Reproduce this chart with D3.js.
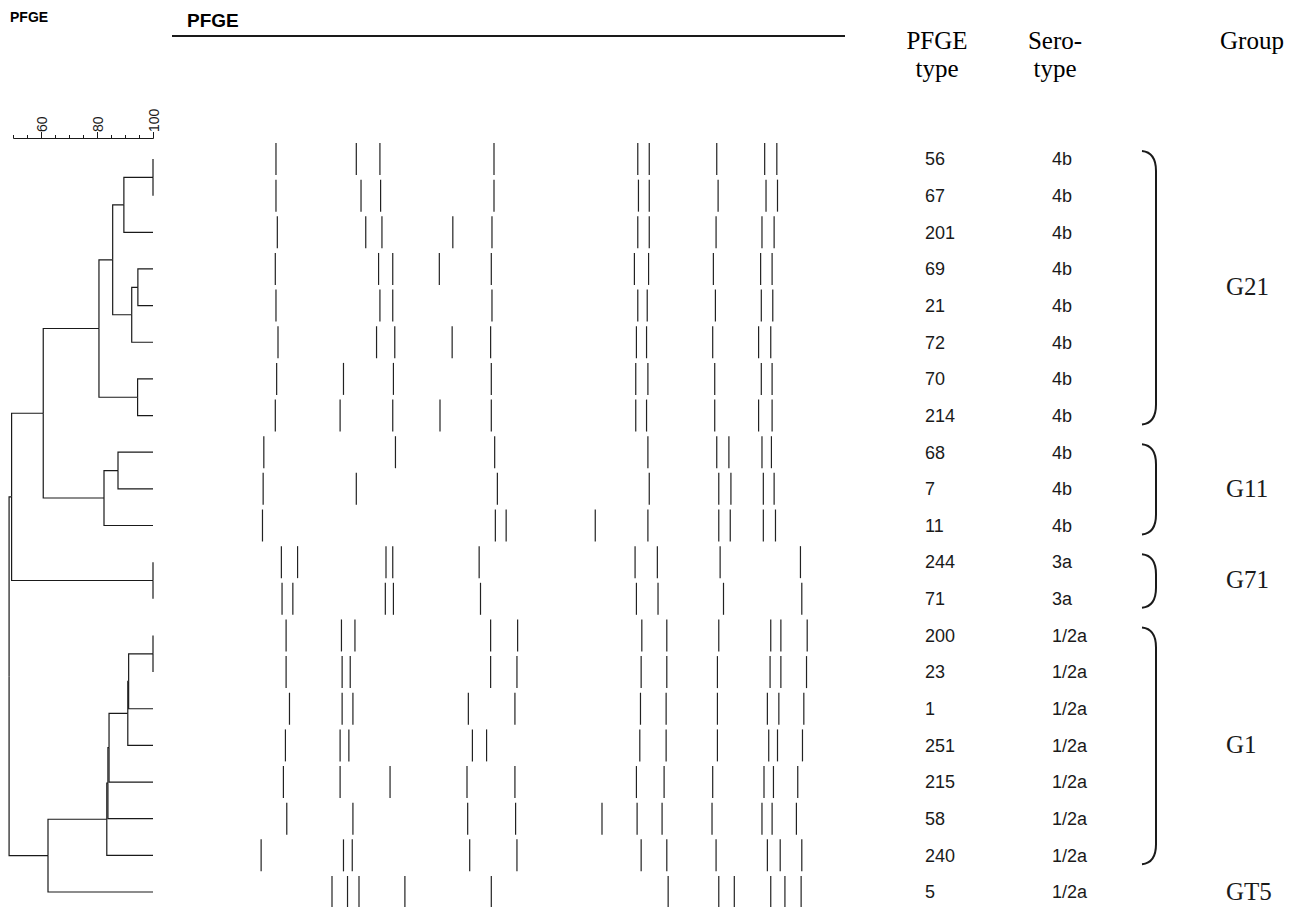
<!DOCTYPE html>
<html>
<head>
<meta charset="utf-8">
<script src="https://cdn.jsdelivr.net/npm/d3@7"></script>
<style>
  body { margin: 0; background: #fff; }
  svg { display: block; }
</style>
</head>
<body>
<div id="chart"></div>
<script>
// DATA
const pfgeTypes = ["56", "67", "201", "69", "21", "72", "70", "214", "68", "7", "11",
  "244", "71", "200", "23", "1", "251", "215", "58", "240", "5"];
const serotypes = ["4b", "4b", "4b", "4b", "4b", "4b", "4b", "4b", "4b", "4b", "4b",
  "3a", "3a", "1/2a", "1/2a", "1/2a", "1/2a", "1/2a", "1/2a", "1/2a", "1/2a"];

// clustering: indices < 21 are patterns, 21 + k is the k-th merge
const merges = [[0, 1], [21, 2], [3, 4], [23, 5], [22, 24], [6, 7], [25, 26], [8, 9], [28, 10],
  [27, 29], [11, 12], [30, 31], [13, 14], [33, 15], [34, 16], [35, 17], [36, 18], [37, 19],
  [38, 20], [32, 39]];
const mergeSimilarity = [100, 89.6, 94.6, 92.4, 85.6, 94.5, 80.7, 87.5, 82.5,
  60.8, 100, 49.5, 100, 91.3, 91.0, 84.3, 83.9, 83.5, 62.5, 48.6];

// band positions along the lane (% of lane length), one list per pattern
const bands = [
  [15.7, 27.6, 31.1, 48.0, 69.3, 71.0, 81.0, 88.1, 89.9],
  [15.7, 28.3, 31.2, 48.0, 69.4, 71.0, 81.2, 88.3, 90.0],
  [15.9, 29.0, 31.4, 41.9, 47.7, 69.3, 71.0, 80.9, 87.7, 89.5],
  [15.6, 30.9, 33.0, 39.9, 47.6, 68.8, 70.9, 80.5, 87.5, 89.2],
  [15.7, 31.1, 33.0, 47.7, 69.3, 70.7, 80.8, 87.6, 89.3],
  [16.0, 30.6, 33.3, 41.8, 47.5, 69.1, 70.6, 80.4, 87.2, 89.0],
  [15.8, 25.7, 33.1, 47.6, 69.0, 70.8, 80.7, 87.6, 89.2],
  [15.6, 25.2, 33.0, 40.0, 47.6, 69.0, 70.6, 80.7, 87.2, 89.2],
  [13.9, 33.4, 48.1, 70.8, 81.0, 82.8, 87.7, 89.1],
  [13.8, 27.6, 48.5, 71.0, 81.3, 83.1, 87.9, 89.5],
  [13.7, 48.2, 49.8, 63.0, 70.8, 81.3, 83.0, 87.9, 89.7],
  [16.5, 18.9, 32.0, 33.0, 45.8, 68.9, 72.2, 81.5, 93.4],
  [16.6, 18.2, 31.9, 33.1, 46.0, 69.1, 72.3, 82.0, 93.6],
  [17.2, 25.4, 27.4, 47.5, 51.5, 69.9, 73.6, 81.3, 89.0, 90.5, 94.4],
  [17.2, 25.5, 26.7, 47.5, 51.4, 69.8, 73.6, 81.1, 88.9, 90.5, 94.3],
  [17.7, 25.5, 27.1, 44.2, 51.1, 69.7, 73.5, 81.1, 88.5, 90.2, 93.9],
  [17.1, 25.2, 26.5, 44.8, 46.9, 69.6, 73.5, 81.1, 88.7, 90.0, 93.7],
  [16.8, 25.2, 32.6, 44.0, 51.1, 69.1, 73.2, 80.4, 88.0, 89.4, 93.0],
  [17.3, 27.1, 44.1, 51.2, 64.0, 69.2, 72.9, 80.3, 87.7, 89.2, 92.8],
  [13.5, 25.7, 27.0, 44.4, 51.4, 69.8, 73.6, 80.9, 88.5, 90.4, 93.6],
  [24.0, 26.3, 28.0, 34.8, 47.6, 73.8, 81.3, 83.6, 89.0, 91.1, 93.5]
];

const groupNames = ["G21", "G11", "G71", "G1", "GT5"];
const groupFirst = [0, 8, 11, 13, 20];
const groupLast = [7, 10, 12, 19, 20];

const minorTicks = [50, 55, 60, 65, 70, 75, 80, 85, 90, 95, 100];
const majorTicks = [60, 80, 100];

// LAYOUT
const width = 1300;
const height = 907;
const sans = "'Liberation Sans', Arial, sans-serif";
const serif = "'Liberation Serif', 'Times New Roman', serif";
const ink = "#1a1a1a";

const svg = d3.select("#chart")
  .append("svg")
  .attr("width", width)
  .attr("height", height)
  .attr("viewBox", [0, 0, width, height]);

const simX = d3.scaleLinear().domain([50, 100]).range([13, 153]);
const rowY = d3.scaleLinear().domain([0, pfgeTypes.length - 1]).range([159, 892]);
const laneX = d3.scaleLinear().domain([0, 100]).range([170, 845]);

// titles
svg.append("text")
  .attr("x", 10).attr("y", 22)
  .attr("font-family", sans).attr("font-weight", "bold").attr("font-size", 14)
  .text("PFGE");

svg.append("text")
  .attr("x", 187).attr("y", 27)
  .attr("font-family", sans).attr("font-weight", "bold").attr("font-size", 19)
  .text("PFGE");

svg.append("line")
  .attr("x1", laneX(0) + 2).attr("x2", laneX(100))
  .attr("y1", 36).attr("y2", 36)
  .attr("stroke", ink).attr("stroke-width", 2);

// similarity axis
const axisG = svg.append("g").attr("transform", "translate(0,138)");
axisG.append("g")
  .call(d3.axisTop(simX).tickValues(minorTicks).tickSize(3).tickFormat(""))
  .call(g => g.selectAll("line,path").attr("stroke", ink));
axisG.append("g")
  .call(d3.axisTop(simX).tickValues(majorTicks).tickSize(6).tickSizeOuter(0))
  .call(g => g.select(".domain").remove())
  .call(g => g.selectAll("line").attr("stroke", ink))
  .call(g => g.selectAll("text")
    .attr("font-family", sans)
    .attr("font-size", 14)
    .attr("fill", ink)
    .attr("text-anchor", "start")
    .attr("dy", null)
    .attr("dominant-baseline", "central")
    .attr("transform", "translate(0,-6) rotate(-90)")
    .attr("x", 0).attr("y", 0));

// dendrogram built from the merge list
const nodes = pfgeTypes.map((name, i) => ({ name, index: i }));
merges.forEach(([a, b], k) => {
  nodes.push({ name: "n" + k, sim: mergeSimilarity[k], children: [nodes[a], nodes[b]] });
});
const root = d3.hierarchy(nodes[nodes.length - 1]);
root.eachAfter(d => {
  if (d.children) {
    d.px = simX(d.data.sim);
    d.py = d3.mean(d.children, c => c.py);
  } else {
    d.px = simX(100);
    d.py = rowY(d.data.index);
  }
});

svg.append("g")
  .attr("fill", "none")
  .attr("stroke", ink)
  .attr("stroke-width", 1.2)
  .selectAll("path")
  .data(root.links())
  .join("path")
  .attr("d", d => `M${d.source.px},${d.source.py}V${d.target.py}H${d.target.px}`);

// band patterns
const lanes = svg.append("g")
  .selectAll("g")
  .data(bands)
  .join("g")
  .attr("transform", (d, i) => `translate(0,${rowY(i)})`);

lanes.selectAll("line")
  .data(d => d)
  .join("line")
  .attr("x1", d => laneX(d)).attr("x2", d => laneX(d))
  .attr("y1", -16).attr("y2", 16)
  .attr("stroke", "#222")
  .attr("stroke-width", 1.2);

// column headers
const headers = [
  { x: 937, lines: ["PFGE", "type"] },
  { x: 1055, lines: ["Sero-", "type"] },
  { x: 1252, lines: ["Group"] }
];
headers.forEach(h => {
  svg.append("text")
    .attr("font-family", serif).attr("font-size", 25)
    .attr("text-anchor", "middle")
    .selectAll("tspan")
    .data(h.lines)
    .join("tspan")
    .attr("x", h.x)
    .attr("y", (d, i) => 49 + i * 28)
    .text(d => d);
});

// row labels
svg.append("g")
  .selectAll("text")
  .data(pfgeTypes)
  .join("text")
  .attr("x", 925)
  .attr("y", (d, i) => rowY(i))
  .attr("dy", "0.35em")
  .attr("font-family", sans).attr("font-size", 18).attr("fill", ink)
  .text(d => d);

svg.append("g")
  .selectAll("text")
  .data(serotypes)
  .join("text")
  .attr("x", 1052)
  .attr("y", (d, i) => rowY(i))
  .attr("dy", "0.35em")
  .attr("font-family", sans).attr("font-size", 18).attr("fill", ink)
  .text(d => d);

// group braces and names
const groups = groupNames.map((name, i) => ({ name, first: groupFirst[i], last: groupLast[i] }));

svg.append("g")
  .attr("fill", "none")
  .attr("stroke", ink)
  .attr("stroke-width", 2)
  .selectAll("path")
  .data(groups.filter(g => g.last > g.first))
  .join("path")
  .attr("d", g => {
    const y0 = rowY(g.first) - 8;
    const y1 = rowY(g.last) + 9;
    return `M1142,${y0}C1152,${y0 + 1} 1156,${y0 + 8} 1156,${y0 + 20}` +
      `V${y1 - 20}C1156,${y1 - 8} 1152,${y1 - 1} 1142,${y1}`;
  });

svg.append("g")
  .selectAll("text")
  .data(groups)
  .join("text")
  .attr("x", 1226)
  .attr("y", g => (rowY(g.first) + rowY(g.last)) / 2)
  .attr("dy", "0.32em")
  .attr("font-family", serif).attr("font-size", 25).attr("fill", ink)
  .text(g => g.name);
</script>
</body>
</html>
